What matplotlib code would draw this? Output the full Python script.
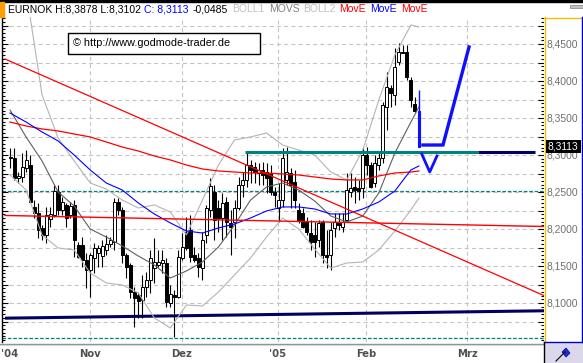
import matplotlib
matplotlib.use("Agg")
import matplotlib.pyplot as plt
from matplotlib.patches import Rectangle, Polygon
from matplotlib.transforms import blended_transform_factory

# EURNOK daily candles, Oct 2004 - Feb 2005
opens = [8.2960, 8.2960, 8.2690, 8.2703, 8.2825, 8.2865, 8.2298, 8.2217, 8.2014, 8.1919,
         8.2136, 8.2190, 8.2500, 8.2257, 8.2325, 8.2190, 8.2325, 8.1784, 8.1784, 8.1582,
         8.1446, 8.1609, 8.1676, 8.1636, 8.1717, 8.1798, 8.1825, 8.2365, 8.2257, 8.1649,
         8.1514, 8.1149, 8.1109, 8.1041, 8.1217, 8.1311, 8.1473, 8.1514, 8.1541, 8.1541,
         8.1000, 8.1109, 8.1082, 8.1609, 8.1960, 8.1987, 8.1649, 8.1609, 8.1473, 8.1919,
         8.2257, 8.2500, 8.2284, 8.2149, 8.2365, 8.2082, 8.2095, 8.2284, 8.2595, 8.2663,
         8.2865, 8.2838, 8.2757, 8.2798, 8.2771, 8.2757, 8.2500, 8.2284, 8.2392, 8.2663,
         8.2757, 8.2636, 8.2257, 8.2217, 8.2095, 8.1946, 8.1919, 8.1852, 8.2095, 8.1649,
         8.1649, 8.2014, 8.2082, 8.2027, 8.2122, 8.2500, 8.2568, 8.2555, 8.2555, 8.3000,
         8.2865, 8.2622, 8.2865, 8.2960, 8.3649, 8.3906, 8.3811, 8.4257, 8.4392, 8.4392,
         8.4014, 8.3690, 8.3598]
highs = [8.3095, 8.3095, 8.2771, 8.3027, 8.3068, 8.3000, 8.2392, 8.2352, 8.2055, 8.2298,
         8.2298, 8.2595, 8.2595, 8.2433, 8.2352, 8.2365, 8.2392, 8.1825, 8.1892, 8.1676,
         8.1676, 8.1811, 8.1784, 8.1852, 8.1919, 8.1892, 8.2419, 8.2419, 8.2298, 8.1676,
         8.1541, 8.1217, 8.1149, 8.1379, 8.1419, 8.1717, 8.1879, 8.1717, 8.1717, 8.1609,
         8.1244, 8.1176, 8.1717, 8.1946, 8.2163, 8.2190, 8.1757, 8.1676, 8.1960, 8.2325,
         8.2690, 8.2595, 8.2392, 8.2487, 8.2433, 8.2257, 8.2392, 8.2703, 8.2771, 8.3041,
         8.2933, 8.2906, 8.2892, 8.2906, 8.2892, 8.2865, 8.2568, 8.2622, 8.3095, 8.3109,
         8.2825, 8.2798, 8.2352, 8.2284, 8.2163, 8.2122, 8.2095, 8.2122, 8.2122, 8.1987,
         8.2095, 8.2217, 8.2217, 8.2217, 8.2757, 8.2757, 8.2703, 8.2663, 8.3109, 8.3109,
         8.2906, 8.3000, 8.3027, 8.3717, 8.4122, 8.3946, 8.4446, 8.4514, 8.4487, 8.4487,
         8.4054, 8.3784, 8.3878]
lows = [8.2825, 8.2663, 8.2622, 8.2636, 8.2771, 8.2352, 8.2149, 8.1879, 8.1852, 8.1811,
        8.2027, 8.2163, 8.2190, 8.2190, 8.2027, 8.2149, 8.1622, 8.1609, 8.1487, 8.1203,
        8.1082, 8.1406, 8.1487, 8.1487, 8.1649, 8.1757, 8.1717, 8.2190, 8.1541, 8.1338,
        8.1068, 8.0676, 8.0798, 8.0798, 8.1082, 8.1136, 8.1271, 8.1487, 8.1406, 8.0946,
        8.0946, 8.0541, 8.1068, 8.1582, 8.1717, 8.1555, 8.1555, 8.1352, 8.1311, 8.1811,
        8.2163, 8.1852, 8.1960, 8.1852, 8.1892, 8.1649, 8.1879, 8.2257, 8.2433, 8.2568,
        8.2622, 8.2622, 8.2595, 8.2595, 8.2487, 8.2460, 8.2298, 8.2095, 8.2298, 8.2595,
        8.2284, 8.2284, 8.2082, 8.2014, 8.1919, 8.1717, 8.1622, 8.1757, 8.1541, 8.1473,
        8.1446, 8.1892, 8.1987, 8.1960, 8.2095, 8.2433, 8.2352, 8.2392, 8.2419, 8.2730,
        8.2555, 8.2568, 8.2798, 8.2892, 8.3338, 8.3649, 8.3676, 8.4217, 8.4379, 8.4014,
        8.3649, 8.3582, 8.3102]
closes = [8.2973, 8.2690, 8.2717, 8.2838, 8.2933, 8.2365, 8.2217, 8.1987, 8.1919, 8.2190,
          8.2203, 8.2514, 8.2257, 8.2365, 8.2149, 8.2311, 8.1852, 8.1622, 8.1582, 8.1446,
          8.1649, 8.1744, 8.1744, 8.1771, 8.1798, 8.1852, 8.2365, 8.2257, 8.1649, 8.1487,
          8.1149, 8.1068, 8.1027, 8.1217, 8.1311, 8.1609, 8.1555, 8.1555, 8.1582, 8.1014,
          8.1122, 8.1082, 8.1622, 8.1757, 8.1744, 8.1622, 8.1582, 8.1487, 8.1852, 8.2284,
          8.2582, 8.2122, 8.2149, 8.2352, 8.2095, 8.2027, 8.2284, 8.2595, 8.2663, 8.2865,
          8.2798, 8.2771, 8.2798, 8.2730, 8.2690, 8.2500, 8.2460, 8.2392, 8.2960, 8.2771,
          8.2595, 8.2392, 8.2122, 8.2027, 8.1960, 8.1825, 8.1825, 8.2082, 8.1649, 8.1622,
          8.1987, 8.2095, 8.2055, 8.2095, 8.2527, 8.2555, 8.2527, 8.2514, 8.3000, 8.2865,
          8.2568, 8.2892, 8.2960, 8.3676, 8.3919, 8.3838, 8.4190, 8.4392, 8.4379, 8.4054,
          8.3744, 8.3598, 8.3113]

# indicator lines, read every 4th session
ind_idx = list(range(0, 101, 4)) + [102]
movs = [8.3608, 8.3244, 8.2919, 8.2500, 8.2311, 8.2000, 8.1892, 8.1771, 8.1635, 8.1514,
        8.1338, 8.1433, 8.1554, 8.1757, 8.2054, 8.2392, 8.2568, 8.2622, 8.2527, 8.2379,
        8.2176, 8.2095, 8.2176, 8.2487, 8.3027, 8.3446, 8.3649]
boll1 = [8.5636, 8.5230, 8.3811, 8.3230, 8.2919, 8.2622, 8.2541, 8.2392, 8.2284, 8.2325,
         8.2230, 8.1920, 8.2392, 8.2865, 8.3203, 8.3244, 8.3298, 8.3135, 8.3068, 8.3000,
         8.2771, 8.2663, 8.3068, 8.3744, 8.4352, 8.4757, 8.4730]
boll2 = [8.2730, 8.2527, 8.1919, 8.1744, 8.1717, 8.1406, 8.1271, 8.1244, 8.1136, 8.0798,
         8.0662, 8.0973, 8.0960, 8.1149, 8.1379, 8.1609, 8.1892, 8.2149, 8.2000, 8.1730,
         8.1473, 8.1541, 8.1554, 8.1717, 8.1973, 8.2257, 8.2419]
move_blue = [8.3568, 8.3446, 8.3311, 8.3190, 8.3000, 8.2798, 8.2622, 8.2527, 8.2352, 8.2203,
             8.2082, 8.1973, 8.1946, 8.2014, 8.2068, 8.2149, 8.2244, 8.2298, 8.2298, 8.2271,
             8.2203, 8.2203, 8.2271, 8.2365, 8.2514, 8.2798, 8.2852]
move_red = [8.3446, 8.3392, 8.3352, 8.3325, 8.3284, 8.3244, 8.3176, 8.3108, 8.3054, 8.2987,
            8.2933, 8.2865, 8.2811, 8.2784, 8.2770, 8.2757, 8.2757, 8.2743, 8.2730, 8.2703,
            8.2676, 8.2663, 8.2663, 8.2717, 8.2757, 8.2770, 8.2784]

# drawn lines (session index, price)
trend_down = ([-1.25, 133.4], [8.4297, 8.1095])
trend_flat = ([-1.25, 133.4], [8.2183, 8.2034])
support = ([-1.25, 133.4], [8.0795, 8.0895])
resist_teal = ([58.6, 116.7], [8.3041, 8.3041])
resist_navy = ([116.7, 130.9], [8.3041, 8.3041])
dashed_levels = [8.2514, 8.0527]
forecast_up = ([103.0, 108.0, 114.5], [8.3135, 8.3135, 8.4460])
forecast_v = ([102.7, 104.7, 106.5], [8.3014, 8.2771, 8.2987])

months = ["'04", "Nov", "Dez", "'05", "Feb", "Mrz"]
month_pos = [-0.2, 19.95, 42.9, 66.8, 88.8, 114.0]
price_ticks = [8.45, 8.40, 8.35, 8.30, 8.25, 8.20, 8.15, 8.10]

W, H = 583, 363
fig = plt.figure(figsize=(W / 100, H / 100), dpi=100)
fig.patch.set_facecolor('white')
plt.rcParams['font.family'] = ['Liberation Sans', 'DejaVu Sans']

L, R, T, B = 2, 544, 17, 342
ax = fig.add_axes([L / W, 1 - B / H, (R - L) / W, (B - T) / H])
ax.set_xlim(-2.0, 133.2)
ax.set_ylim(8.0473, 8.4865)
for s in ['top', 'right', 'bottom']:
    ax.spines[s].set_visible(False)
ax.spines['left'].set_linewidth(1.0)
ax.set_xticks([])
ax.set_yticks([8.075 + 0.025 * k for k in range(17)])
ax.set_yticks([8.050 + 0.005 * k for k in range(88)], minor=True)
ax.tick_params(axis='y', which='both', direction='in', left=True, right=True,
               labelleft=False, width=0.8, color='black')
ax.tick_params(axis='y', which='major', length=4)
ax.tick_params(axis='y', which='minor', length=2.5)

grid_kw = dict(color='#c4c4c4', lw=0.8, dashes=(3.6, 2.9), zorder=0)
for k in range(17):
    ax.axhline(8.075 + 0.025 * k, **grid_kw)
for p in month_pos[1:]:
    ax.axvline(p, **grid_kw)

# drawn levels
for lv in dashed_levels:
    ax.axhline(lv, color='#008080', lw=0.9, dashes=(2.9, 1.4), zorder=1)
ax.plot(*support, color='#000060', lw=2.2, zorder=2, solid_capstyle='butt')

# candles
for i in range(len(opens) - 1):
    o, h, l, c = opens[i], highs[i], lows[i], closes[i]
    ax.vlines(i, l, h, color='black', lw=0.8, zorder=3)
    lo, hi = min(o, c), max(o, c)
    ht = max(hi - lo, 0.0007)
    fc = 'white' if c >= o else 'black'
    ax.add_patch(Rectangle((i - 0.37, lo), 0.74, ht, facecolor=fc,
                           edgecolor='black', lw=0.7, zorder=3.5))

# indicator lines
ax.plot(ind_idx, boll1, color='#b4b4b4', lw=0.8, zorder=4)
ax.plot(ind_idx, boll2, color='#b4b4b4', lw=0.8, zorder=4)
ax.plot(ind_idx, movs, color='#606060', lw=0.8, zorder=4)
ax.plot(ind_idx, move_red, color='#ff0000', lw=0.9, zorder=4)
ax.plot(ind_idx, move_blue, color='#0000ff', lw=0.8, zorder=4)
ax.plot(*trend_down, color='#ff0000', lw=0.9, zorder=4)
ax.plot(*trend_flat, color='#ff0000', lw=1.0, zorder=4)
ax.plot(*resist_teal, color='#008080', lw=2.2, zorder=4, solid_capstyle='butt')
ax.plot(*resist_navy, color='#000060', lw=2.2, zorder=4, solid_capstyle='butt')

# last session highlighted in blue
n = len(opens) - 1
ax.vlines(n, lows[n], highs[n], color='#1010ff', lw=1.0, zorder=5)
ax.add_patch(Rectangle((n - 0.35, closes[n]), 0.7, opens[n] - closes[n],
                       facecolor='#1010ff', edgecolor='#1010ff', lw=0.8, zorder=5))

# forecast sketch
ax.plot(*forecast_up, color='#1010ff', lw=2.4, zorder=5, solid_joinstyle='miter')
ax.plot(*forecast_v, color='#1010ff', lw=2.0, zorder=5)

# overlay in pixel coordinates for the frame
ov = fig.add_axes([0, 0, 1, 1], zorder=10)
ov.set_xlim(0, W)
ov.set_ylim(H, 0)
ov.axis('off')
ov.patch.set_alpha(0)

ov.add_patch(Rectangle((0, 0), W, 2, color='black'))
ov.add_patch(Rectangle((0, 2), 4, 15, color='#ff9c00'))
ov.add_patch(Rectangle((570, 5), 13, 3, facecolor='#c0c0c0', edgecolor='#808080', lw=0.5))

# header
header = [("EURNOK H:8,3878 L:8,3102", 'black'), ("C: 8,3113", '#0000ff'),
          ("-0,0485", 'black'), ("BOLL1", '#c0c0c0'), ("MOVS", '#808080'),
          ("BOLL2", '#c0c0c0'), ("MovE", '#ff0000'), ("MovE", '#0000ff'),
          ("MovE", '#ff0000')]
renderer = fig.canvas.get_renderer()
x = 7.5
for txt, col in header:
    t = ov.text(x, 9.5, txt, color=col, fontsize=7.45, va='center', ha='left')
    bb = t.get_window_extent(renderer)
    x += bb.width + 4.0

# copyright box
ov.add_patch(Rectangle((67.5, 32.5), 192, 21, facecolor='white', edgecolor='black', lw=1.0))
ov.text(73, 43.5, "\u00a9 http://www.godmode-trader.de", fontsize=7.8, va='center',
        ha='left', color='black')

# price panel
ov.add_patch(Rectangle((544, 17), 39, 325, facecolor='white', edgecolor='none'))
ov.plot([544.5, 544.5], [17, 342], color='#f0c000', lw=1.0)
ov.plot([544, 583], [17.5, 17.5], color='#f0c000', lw=1.0)
ov.plot([581.5, 581.5], [17, 342], color='#0000c0', lw=1.0)
ov.plot([544, 583], [342, 342], color='#0000c0', lw=1.0)
tr = blended_transform_factory(ov.transData, ax.transData)
last = closes[-1]
for p in price_ticks:
    t = ov.text(546.5, p, ("%.4f" % p).replace('.', ','), transform=tr, fontsize=7.4,
                color='#707070', va='center', ha='left')
    if abs(p - last) < 0.012:
        # mostly hidden behind the last-price box
        clip = Rectangle((544, 153), 39, 8, transform=ov.transData)
        t.set_clip_path(clip)
ov.add_patch(Rectangle((545.5, last - 0.0088), 35, 0.0176, transform=tr,
                       facecolor='black', edgecolor='none', zorder=11))
ov.text(547, last, ("%.4f" % last).replace('.', ','), transform=tr, fontsize=7.4,
        color='white', va='center', ha='left', zorder=12)

# date panel
ov.plot([0, 544], [343.5, 343.5], color='#909090', lw=1.0)
ov.plot([0, 544], [345, 345], color='#d8d8d8', lw=0.8)
trx = blended_transform_factory(ax.transData, ov.transData)
for lab, p in zip(months, month_pos):
    ov.text(p, 354, lab, transform=trx, fontsize=8, color='#505050', ha='center',
            va='center', fontweight='bold', family='DejaVu Sans', fontstretch='condensed')

# corner box
ov.add_patch(Rectangle((544, 342.5), 39, 20.5, facecolor='#dcd8ec', edgecolor='none'))
ov.plot([544, 544], [342, 363], color='black', lw=1.0)
ov.plot([556, 565], [361, 352], color='black', lw=0.8)
ov.add_patch(Polygon([[562, 352], [566, 348], [570, 353], [566, 357]], closed=True,
                     facecolor='#2030e0', edgecolor='#000080', lw=0.5))

fig.savefig('out.png', dpi=100)
